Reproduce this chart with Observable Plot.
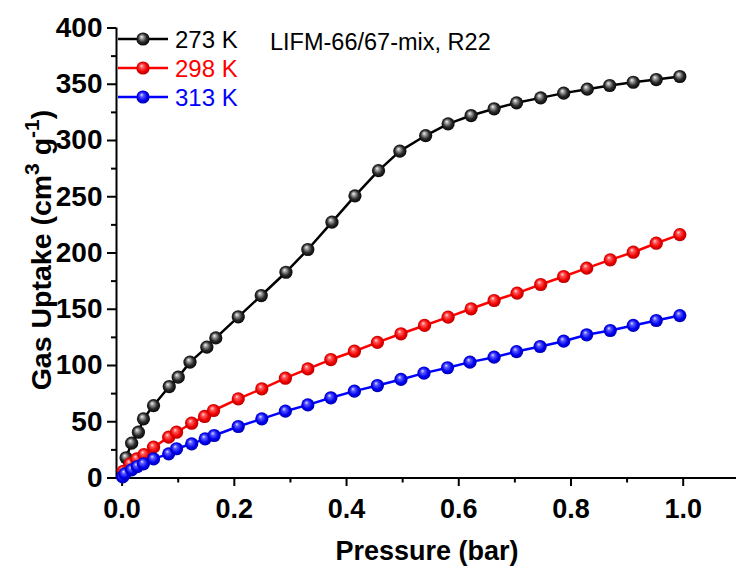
<!DOCTYPE html>
<html>
<head>
<meta charset="utf-8">
<script src="https://cdn.jsdelivr.net/npm/d3@7"></script>
<script src="https://cdn.jsdelivr.net/npm/@observablehq/plot@0.6"></script>
<style>
  html, body { margin: 0; padding: 0; background: #fff; }
  #chart { width: 736px; height: 569px; }
</style>
</head>
<body>
<div id="chart"></div>
<script>
// ---------- data ----------
const seriesLabels = ["273 K", "298 K", "313 K"];
const seriesColors = ["#000000", "#ff0000", "#0000ff"];
const sampleLabel = "LIFM-66/67-mix, R22";

const pressure273 = [0.007, 0.017, 0.029, 0.038, 0.056, 0.084, 0.100, 0.121, 0.151, 0.167, 0.207, 0.248, 0.292, 0.331, 0.374, 0.415, 0.457, 0.495, 0.541, 0.581, 0.622, 0.663, 0.703, 0.746, 0.787, 0.829, 0.869, 0.911, 0.952, 0.994];
const uptake273   = [18, 31, 40.7, 52.6, 64.4, 81.3, 89.6, 103, 116.3, 124.5, 143.3, 162.2, 182.9, 203.1, 227.4, 250.8, 273.2, 290.5, 304.4, 314.8, 322.2, 328.2, 333.5, 337.9, 342.1, 345.6, 348.9, 351.8, 354.2, 356.9];

const pressure298 = [0.002, 0.014, 0.026, 0.039, 0.056, 0.083, 0.097, 0.124, 0.147, 0.163, 0.207, 0.249, 0.291, 0.331, 0.372, 0.414, 0.455, 0.497, 0.539, 0.581, 0.622, 0.663, 0.704, 0.746, 0.787, 0.828, 0.870, 0.911, 0.952, 0.994];
const uptake298   = [6, 12.6, 17, 20.9, 27.4, 36.3, 40.7, 48.7, 54.7, 60, 70.4, 79.3, 88.7, 97, 105.3, 112.7, 120.5, 128.2, 135.6, 143, 150.4, 157.8, 164.3, 172, 179.1, 186.5, 193.9, 200.7, 208.7, 216.4];

const pressure313 = [0.001, 0.005, 0.017, 0.027, 0.038, 0.056, 0.083, 0.097, 0.124, 0.148, 0.164, 0.207, 0.249, 0.291, 0.331, 0.372, 0.414, 0.455, 0.497, 0.538, 0.580, 0.620, 0.663, 0.703, 0.745, 0.787, 0.828, 0.870, 0.911, 0.952, 0.994];
const uptake313   = [1, 3.7, 7.3, 10.2, 12.6, 17, 21.5, 26, 30.4, 34.8, 37.8, 45.8, 52.6, 59.4, 65, 71.3, 77.2, 82.2, 87.6, 93.2, 98, 103, 107.4, 112.4, 116.9, 121.6, 127.3, 131.1, 135.6, 140, 144.4];

const xTicks = [0, 0.2, 0.4, 0.6, 0.8, 1.0];
const xMinorTicks = [0.1, 0.3, 0.5, 0.7, 0.9];
const yTicks = [0, 50, 100, 150, 200, 250, 300, 350, 400];
const yMinorTicks = [25, 75, 125, 175, 225, 275, 325, 375];

// ---------- build table ----------
const gradIds = ["g273", "g298", "g313"];
const series = [
  {label: seriesLabels[0], p: pressure273, v: uptake273},
  {label: seriesLabels[1], p: pressure298, v: uptake298},
  {label: seriesLabels[2], p: pressure313, v: uptake313}
];
const points = [];
const linePts = [];
series.forEach((s, i) => {
  linePts.push({series: s.label, p: 0, v: 0});
  s.p.forEach((p, j) => {
    points.push({series: s.label, i, p, v: s.v[j]});
    linePts.push({series: s.label, p, v: s.v[j]});
  });
});

const font = "'Liberation Sans', Arial, sans-serif";
const ballR = 6.6;

const lineMarks = series.map((s, i) =>
  Plot.line(linePts.filter(d => d.series === s.label), {x: "p", y: "v", stroke: seriesColors[i], strokeWidth: 2.5})
);
const dotMarks = series.map((s, i) =>
  Plot.dot(points.filter(d => d.series === s.label), {x: "p", y: "v", r: ballR, fill: `url(#${gradIds[i]})`, stroke: "none"})
);

const chart = Plot.plot({
  width: 736,
  height: 569,
  marginLeft: 116,
  marginRight: 0,
  marginTop: 27.5,
  marginBottom: 91.5,
  style: {fontFamily: font, background: "white", overflow: "visible", color: "black"},
  x: {domain: [-0.01, 1.095]},
  y: {domain: [0, 400]},
  marks: [
    Plot.axisX(xMinorTicks, {anchor: "bottom", tickSize: 5, strokeWidth: 2, text: null, label: null}),
    Plot.axisX(xTicks, {anchor: "bottom", tickSize: 8.5, strokeWidth: 2, tickPadding: 12, tickFormat: d3.format(".1f"), fontSize: 27, fontWeight: "bold", label: null}),
    Plot.axisY(yMinorTicks, {anchor: "left", tickSize: 5, strokeWidth: 2, text: null, label: null}),
    Plot.axisY(yTicks, {anchor: "left", tickSize: 9, strokeWidth: 2, tickPadding: 5, fontSize: 28, fontWeight: "bold", label: null}),
    Plot.ruleY([0], {strokeWidth: 2}),
    Plot.ruleX([-0.01], {y1: 0, y2: 400, strokeWidth: 2}),
    ...lineMarks,
    ...dotMarks
  ]
});

// ---------- gradients for the glossy balls ----------
const svg = d3.select(chart);
const defs = svg.insert("defs", ":first-child");
const gradStops = [
  [["0%", "#f4f4f4"], ["25%", "#9a9a9a"], ["60%", "#2a2a2a"], ["100%", "#000000"]],
  [["0%", "#ffe0e0"], ["25%", "#ff5a5a"], ["65%", "#f00000"], ["100%", "#a80000"]],
  [["0%", "#e0e0ff"], ["25%", "#5a5aff"], ["65%", "#0000f0"], ["100%", "#0000a0"]]
];
gradIds.forEach((id, i) => {
  const g = defs.append("radialGradient").attr("id", id)
    .attr("cx", "50%").attr("cy", "50%").attr("r", "55%")
    .attr("fx", "38%").attr("fy", "32%");
  gradStops[i].forEach(([o, c]) => g.append("stop").attr("offset", o).attr("stop-color", c));
});

// ---------- axis titles ----------
svg.append("text")
  .attr("x", 427).attr("y", 560)
  .attr("text-anchor", "middle")
  .attr("font-family", font).attr("font-weight", "bold").attr("font-size", 27)
  .text("Pressure (bar)");

const yl = svg.append("text")
  .attr("transform", "translate(51,250) rotate(-90)")
  .attr("text-anchor", "middle")
  .attr("font-family", font).attr("font-weight", "bold").attr("font-size", 28.5);
yl.append("tspan").text("Gas Uptake (cm");
yl.append("tspan").attr("dy", -12).attr("font-size", 21).text("3");
yl.append("tspan").attr("dy", 12).text(" g");
yl.append("tspan").attr("dy", -12).attr("font-size", 21).text("-1");
yl.append("tspan").attr("dy", 12).text(")");

// ---------- legend ----------
const legendY = [39, 68, 97];
series.forEach((s, i) => {
  const y = legendY[i];
  svg.append("line").attr("x1", 118).attr("x2", 168).attr("y1", y).attr("y2", y)
    .attr("stroke", seriesColors[i]).attr("stroke-width", 2.5);
  svg.append("circle").attr("cx", 143).attr("cy", y).attr("r", ballR).attr("fill", `url(#${gradIds[i]})`);
  svg.append("text").attr("x", 175).attr("y", y + 8.8)
    .attr("text-anchor", "start")
    .attr("font-family", font).attr("font-size", 24).attr("fill", seriesColors[i])
    .text(s.label);
});
svg.append("text").attr("x", 270).attr("y", 50)
  .attr("text-anchor", "start")
  .attr("font-family", font).attr("font-size", 23.5).attr("fill", "#000")
  .text(sampleLabel);

document.getElementById("chart").appendChild(chart);
</script>
</body>
</html>
